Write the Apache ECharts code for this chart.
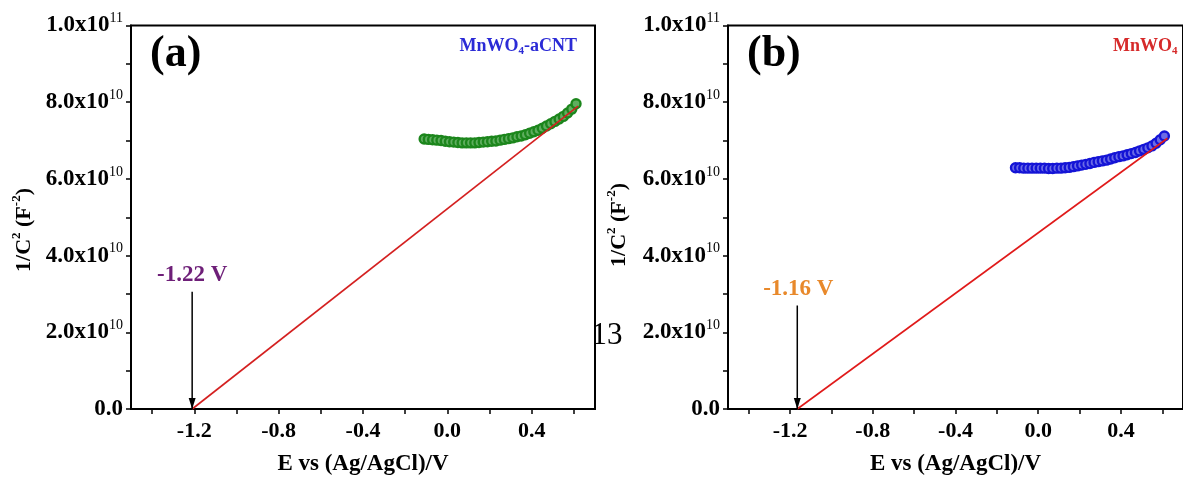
<!DOCTYPE html>
<html>
<head>
<meta charset="utf-8">
<script src="https://cdn.jsdelivr.net/npm/echarts@6/dist/echarts.min.js"></script>
<style>
html,body{margin:0;padding:0;background:#fff;}
#c{width:1183px;height:481px;}
</style>
</head>
<body>
<div id="c"></div>
<script>
// ---- data (y values in units of 1e10 F^-2) ----
const potentialA = [-0.11,-0.09,-0.07,-0.05,-0.03,-0.01,0.01,0.03,0.05,0.07,0.09,0.11,0.13,0.15,0.17,0.19,0.21,0.23,0.25,0.27,0.29,0.31,0.33,0.35,0.37,0.39,0.41,0.43,0.45,0.47,0.49,0.51,0.53,0.55,0.57,0.59,0.61];
const invC2A = [7.04,7.03,7.02,7.01,7.00,6.98,6.97,6.96,6.95,6.94,6.94,6.94,6.94,6.95,6.96,6.97,6.98,6.99,7.01,7.03,7.05,7.07,7.10,7.12,7.15,7.19,7.23,7.27,7.32,7.38,7.44,7.50,7.56,7.63,7.72,7.82,7.96];
const potentialB = [-0.11,-0.09,-0.07,-0.05,-0.03,-0.01,0.01,0.03,0.05,0.07,0.09,0.11,0.13,0.15,0.17,0.19,0.21,0.23,0.25,0.27,0.29,0.31,0.33,0.35,0.37,0.39,0.41,0.43,0.45,0.47,0.49,0.51,0.53,0.55,0.57,0.59,0.61];
const invC2B = [6.29,6.29,6.28,6.28,6.28,6.28,6.28,6.28,6.27,6.27,6.28,6.28,6.29,6.30,6.32,6.34,6.36,6.38,6.40,6.43,6.45,6.47,6.49,6.52,6.55,6.58,6.60,6.63,6.66,6.69,6.73,6.77,6.81,6.86,6.93,7.02,7.12];
const fitA = [[-1.21, 0], [0.62, 7.9]];
const fitB = [[-1.165, 0], [0.625, 7.06]];
const arrowA = [[-1.21, 3.06], [-1.21, 0]];
const arrowB = [[-1.165, 2.70], [-1.165, 0]];
const labelA = [-1.21, 3.49, '-1.22 V'];
const labelB = [-1.16, 3.14, '-1.16 V'];
const xTickMarks = [-1.4,-1.2,-1.0,-0.8,-0.6,-0.4,-0.2,0.0,0.2,0.4,0.6];
const xTickLabels = [-1.2,-0.8,-0.4,0.0,0.4];
const yTickMarks = [0,1,2,3,4,5,6,7,8,9,10];
const yTickLabels = [0,2,4,6,8,10];

const FONT = '"Liberation Serif","Times New Roman",serif';
const ARROW = 'path://M0 0L8 0L4 11Z';

function yFmt(v){
  if (v === 0) return '{b|0.0}';
  if (v === 10) return '{b|1.0x10}{s|11}';
  return '{b|' + v.toFixed(1) + 'x10}{s|10}';
}
const yRich = {
  b:{fontFamily:FONT,fontWeight:'bold',fontSize:23,color:'#000'},
  s:{fontFamily:FONT,fontWeight:'normal',fontSize:14,color:'#000',padding:[0,0,14,0]}
};

function xAxisOf(idx){
  return {
    type:'value', gridIndex:idx, min:-1.5, max:0.7,
    name:'E vs (Ag/AgCl)/V', nameLocation:'middle', nameGap:44,
    nameTextStyle:{fontFamily:FONT,fontWeight:'bold',fontSize:23,color:'#000'},
    axisLine:{show:true,onZero:false,lineStyle:{color:'#000',width:2}},
    axisTick:{show:true,inside:false,length:5,customValues:xTickMarks,lineStyle:{color:'#000',width:1.5}},
    axisLabel:{show:true,customValues:xTickLabels,margin:11,fontFamily:FONT,fontWeight:'bold',fontSize:22,color:'#000',
      formatter:v=>v.toFixed(1)},
    splitLine:{show:false}
  };
}
function yAxisOf(idx){
  return {
    type:'value', gridIndex:idx, min:0, max:10,
    axisLine:{show:true,onZero:false,lineStyle:{color:'#000',width:2}},
    axisTick:{show:true,inside:false,length:5,customValues:yTickMarks,lineStyle:{color:'#000',width:1.5}},
    axisLabel:{show:true,customValues:yTickLabels,margin:8,formatter:yFmt,rich:yRich},
    splitLine:{show:false}
  };
}
function pts(xs, ys){ return xs.map((x,i)=>[x, ys[i]]); }
function arrowData(a){
  return [
    {value:a[0], symbol:'none'},
    {value:a[1], symbol:ARROW, symbolSize:[7,11], symbolOffset:[0,-5.5]}
  ];
}
function labelSeries(idx, lab, color){
  return {type:'scatter', xAxisIndex:idx, yAxisIndex:idx, data:[lab], symbolSize:0, silent:true,
    itemStyle:{opacity:1},
    label:{show:true, position:'inside', formatter:p=>p.data[2], fontFamily:FONT, fontWeight:'bold', fontSize:23,
      color:color, opacity:1, textBorderWidth:0}};
}
function richLegend(color){
  return {
    m:{fontFamily:FONT,fontWeight:'bold',fontSize:18,fill:color,color:color},
    sub:{fontFamily:FONT,fontWeight:'bold',fontSize:11,fill:color,color:color,padding:[10,0,0,0]}
  };
}

const chart = echarts.init(document.getElementById('c'), null, {renderer:'canvas'});
chart.setOption({
  animation:false,
  backgroundColor:'#fff',
  grid:[
    {left:131, right:588, top:25.5, bottom:72, show:true, borderColor:'#000', borderWidth:2},
    {left:728, right:-11, top:25.5, bottom:72, show:true, borderColor:'#000', borderWidth:2}
  ],
  xAxis:[xAxisOf(0), xAxisOf(1)],
  yAxis:[yAxisOf(0), yAxisOf(1)],
  series:[
    {type:'scatter', xAxisIndex:0, yAxisIndex:0, data:pts(potentialA, invC2A),
      symbol:'circle', symbolSize:9, itemStyle:{opacity:1, color:'#5fae5f', borderColor:'#1c861c', borderWidth:2.4}},
    {type:'line', xAxisIndex:0, yAxisIndex:0, data:fitA, symbol:'none', lineStyle:{color:'#d42020', width:1.6}, z:5},
    {type:'line', xAxisIndex:0, yAxisIndex:0, data:arrowData(arrowA), showSymbol:true, showAllSymbol:true,
      itemStyle:{color:'#000'}, lineStyle:{color:'#000', width:1.5}, z:6, silent:true},
    labelSeries(0, labelA, '#6e1f78'),

    {type:'scatter', xAxisIndex:1, yAxisIndex:1, data:pts(potentialB, invC2B),
      symbol:'circle', symbolSize:9, itemStyle:{opacity:1, color:'#6b6be6', borderColor:'#1414d6', borderWidth:2.4}},
    {type:'line', xAxisIndex:1, yAxisIndex:1, data:fitB, symbol:'none', lineStyle:{color:'#e01a1a', width:1.6}, z:5},
    {type:'line', xAxisIndex:1, yAxisIndex:1, data:arrowData(arrowB), showSymbol:true, showAllSymbol:true,
      itemStyle:{color:'#000'}, lineStyle:{color:'#000', width:1.5}, z:6, silent:true},
    labelSeries(1, labelB, '#e8892b')
  ],
  graphic:[
    {type:'text', left:150, top:33, style:{text:'(a)', font:'bold 44px ' + FONT, fill:'#000'}},
    {type:'text', left:747, top:33, style:{text:'(b)', font:'bold 44px ' + FONT, fill:'#000'}},
    {type:'text', x:577, y:46, style:{text:'{m|MnWO}{sub|4}{m|-aCNT}', align:'right', verticalAlign:'middle',
      rich:richLegend('#2b2bd6')}},
    {type:'text', x:1113, y:46, style:{text:'{m|MnWO}{sub|4}', align:'left', verticalAlign:'middle',
      rich:richLegend('#d62a2a')}},
    {type:'text', x:24, y:230, rotation:Math.PI/2, style:{text:'{b|1/C}{s|2}{b| (F}{s|-2}{b|)}', align:'center', verticalAlign:'middle',
      rich:{b:{fontFamily:FONT,fontWeight:'bold',fontSize:22,fill:'#000'},
            s:{fontFamily:FONT,fontWeight:'bold',fontSize:13,fill:'#000',padding:[0,0,14,0]}}}},
    {type:'text', x:619, y:225, rotation:Math.PI/2, style:{text:'{b|1/C}{s|2}{b| (F}{s|-2}{b|)}', align:'center', verticalAlign:'middle',
      rich:{b:{fontFamily:FONT,fontWeight:'bold',fontSize:22,fill:'#000'},
            s:{fontFamily:FONT,fontWeight:'bold',fontSize:13,fill:'#000',padding:[0,0,14,0]}}}},
    {type:'text', x:607, y:336, style:{text:'13', align:'center', verticalAlign:'middle', font:'normal 31px ' + FONT, fill:'#000'}}
  ]
});
</script>
</body>
</html>
